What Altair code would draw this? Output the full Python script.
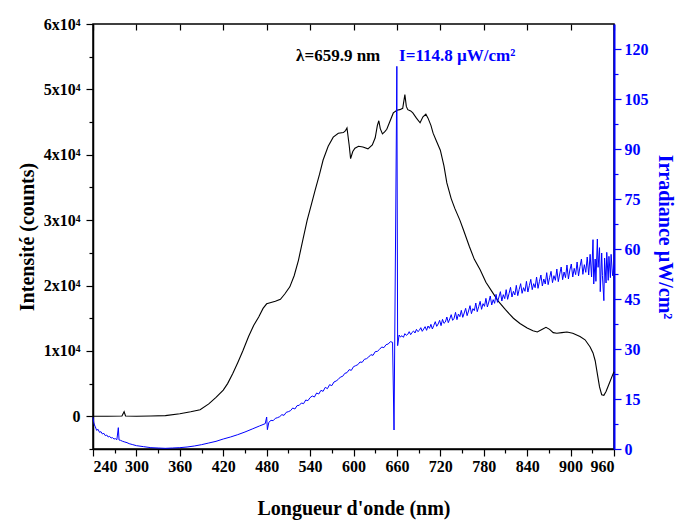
import altair as alt
import pandas as pd

# Intensity spectrum (black, left axis)
int_nm = [240, 260, 280, 283, 285, 300, 320, 340, 360, 375, 388, 400, 410, 420, 426, 433, 440, 447, 455, 462,
          469, 475, 480, 486, 492, 499, 505, 512, 518, 524, 530, 536, 542, 547, 553, 558, 565, 572, 579, 586,
          589, 591, 594, 596, 599, 602, 607, 613, 620, 626, 630, 633, 635, 637, 640, 643, 646, 650, 655, 660,
          664, 668, 671, 673, 675, 679, 682, 687, 692, 696, 700, 703, 707, 710, 715, 720, 725, 729, 735, 740,
          747, 752, 760, 767, 775, 783, 793, 800, 810, 821, 830, 840, 848, 854, 861, 866, 871, 876, 881, 888,
          895, 903, 913, 920, 927, 931, 934, 937, 940, 943, 946, 949, 953, 958, 960]
int_counts = [0, 0, 50, 700, 50, 0, 50, 100, 400, 700, 1000, 1900, 2900, 4000, 5000, 6500, 8200, 10000, 12200, 13900,
              15200, 16500, 17200, 17400, 17600, 17900, 18700, 19800, 21500, 23900, 27000, 30000, 32500, 34600, 37000, 39200, 41300, 42700, 43300, 43400,
              43700, 44100, 41500, 39400, 40500, 41000, 41300, 41200, 40900, 41500, 42600, 44500, 45200, 44000, 43200, 43500, 43900, 45000, 46400, 46800,
              46900, 47100, 49200, 47400, 46900, 46700, 46400, 45600, 44900, 45800, 46200, 45600, 44500, 43300, 42000, 40700, 38300, 35700, 33300, 31800,
              30000, 28500, 26000, 24000, 22400, 20500, 18800, 17600, 16300, 15000, 14200, 13500, 13100, 12900, 13300, 13600, 13300, 12800, 12700, 12800,
              12900, 12700, 12200, 11700, 10600, 9700, 8500, 6500, 4500, 3300, 3200, 3800, 4900, 6300, 6800]

# Irradiance spectrum (blue, right axis)
irr_nm = [240, 241, 242, 243, 245, 247, 249, 251, 253, 255, 257, 259, 261, 263, 265, 267, 269, 271, 273, 275,
          276, 278, 281, 284, 287, 290, 295, 300, 310, 320, 330, 340, 350, 360, 370, 380, 390, 400, 410, 420,
          430, 440, 450, 460, 470, 478, 480, 481,
          483, 486, 489, 492, 495, 498, 501, 504, 507, 510, 513, 516, 519, 522, 525, 528, 531, 534, 537, 540,
          543, 546, 549, 552, 555, 558, 561, 564, 567, 570, 573, 576, 579, 582, 585, 588, 591, 594, 597, 600,
          603, 606, 609, 612, 615, 618, 621, 624, 627, 630, 633, 636, 639, 642, 645, 648, 651, 654, 656, 658,
          659.9,
          661, 663, 665, 667, 669, 671, 673, 675, 677, 679, 681, 683, 685, 687, 689, 691, 693, 695, 697, 699,
          701, 703, 705, 707, 709, 711, 713, 715, 717, 719, 721, 723, 725, 727, 729, 731, 733, 735, 737, 739,
          741, 743, 745, 747, 749, 751, 753, 755, 757, 759, 761, 763, 765, 767, 769, 771, 773, 775, 777, 779,
          781, 783, 785, 787, 789, 791, 793, 795, 797, 799, 801, 803, 805, 807, 809, 811, 813, 815, 817, 819,
          821, 823, 825, 827, 829, 831, 833, 835, 837, 839, 841, 843, 845, 847, 849, 851, 853, 855, 857, 859,
          861, 863, 865, 867, 869, 871, 873, 875, 877, 879, 881, 883, 885, 887, 889, 891, 893, 895, 897, 899,
          901, 903, 905, 907, 909, 911, 913, 915, 917, 919, 921, 923, 925, 927, 929, 931, 932, 934, 935, 937,
          938, 940, 941, 943, 944, 946, 947, 949, 950, 952, 953, 955, 956, 958, 960]
irr_val = [9.5, 8.0, 7.2, 6.8, 5.6, 5.9, 5.0, 5.2, 4.5, 4.7, 4.0, 4.2, 3.6, 3.8, 3.3, 3.4, 3.0, 3.1, 2.8, 6.4,
           2.7, 2.6, 2.3, 2.1, 1.9, 1.6, 1.3, 1.0, 0.7, 0.4, 0.3, 0.2, 0.3, 0.4, 0.6, 0.9, 1.3, 1.8, 2.3, 3.0,
           3.6, 4.3, 5.1, 6.0, 6.9, 7.6, 9.6, 5.8,
           8.0, 8.6, 8.5, 9.2, 9.4, 9.7, 10.3, 10.1, 11.0, 11.2, 11.5, 12.3, 12.0, 13.0, 13.1, 13.8, 13.6, 14.7, 14.5, 15.4,
           15.9, 15.6, 16.8, 16.5, 17.6, 17.3, 18.5, 18.1, 19.3, 19.0, 20.1, 20.4, 20.9, 21.6, 21.8, 22.7, 22.9, 23.8, 23.6, 24.7,
           25.0, 25.3, 26.1, 26.0, 26.9, 27.1, 27.6, 28.3, 28.1, 29.2, 29.3, 29.9, 30.6, 30.4, 31.3, 31.5, 32.2, 32.0, 5.7, 60.0,
           114.8,
           31.0, 34.2, 33.6, 34.0, 33.5, 34.6, 34.1, 34.4, 35.2, 34.3, 35.0, 35.4, 34.8, 35.9, 35.2, 35.6, 36.4, 35.3, 36.0, 36.7,
           35.6, 36.9, 36.2, 37.4, 36.0, 37.1, 38.2, 36.8, 37.5, 38.6, 37.0, 38.9, 37.7, 38.1, 39.6, 37.9, 39.0, 40.3, 38.6, 39.2,
           41.0, 38.8, 40.5, 39.7, 41.6, 39.5, 40.8, 42.2, 40.0, 41.4, 43.0, 40.6, 42.1, 41.5, 43.8, 41.2, 42.7, 44.3, 41.9, 43.6,
           42.8, 45.2, 42.6, 44.1, 45.9, 43.2, 44.8, 43.7, 46.4, 44.0, 45.6, 47.2, 44.4, 46.3, 45.1, 47.8, 44.9, 46.7, 48.5, 45.6,
           47.3, 46.2, 49.1, 46.0, 47.9, 49.6, 46.7, 48.4, 47.3, 50.3, 47.1, 49.0, 50.9, 47.8, 49.6, 48.4, 51.6, 48.2, 50.3, 52.2,
           48.9, 51.0, 49.5, 52.9, 49.3, 51.4, 53.3, 49.9, 52.0, 50.6, 54.0, 50.2, 52.5, 54.6, 50.8, 53.1, 51.4, 55.2, 51.0, 53.7,
           55.5, 51.6, 54.2, 52.3, 56.1, 51.9, 54.7, 57.0, 52.4, 55.3, 53.0, 57.6, 52.2, 58.4, 51.6, 62.8, 49.5, 57.0, 50.3, 63.0,
           54.5, 60.4, 47.2, 58.8, 52.0, 44.5, 57.3, 49.8, 59.0, 50.6, 57.8, 51.4, 58.4, 52.0, 55.2]

x_ticks = list(range(240, 961, 30))
left_ticks = list(range(-5000, 60001, 5000))
right_ticks = [i * 7.5 for i in range(0, 17)]

ann_lambda = "λ=659.9 nm"
ann_irr = "I=114.8 µW/cm²"

FONT = "Liberation Serif"
BLUE = "#0000ff"
LBL = dict(labelFont=FONT, labelFontWeight="bold", labelFontSize=16,
           titleFont=FONT, titleFontWeight="bold", titleFontSize=20)

df_i = pd.DataFrame({"nm": int_nm, "counts": int_counts})
df_b = pd.DataFrame({"nm": irr_nm, "irr": irr_val})

xscale = alt.Scale(domain=[240, 960], nice=False, zero=False)
lscale = alt.Scale(domain=[-5000, 60000], nice=False, zero=False)
rscale = alt.Scale(domain=[0, 127.5], nice=False, zero=False)

black = alt.Chart(df_i).mark_line(color="black", strokeWidth=1.1).encode(
    x=alt.X("nm:Q", scale=xscale, axis=alt.Axis(
        orient="bottom", values=x_ticks, title="Longueur d'onde (nm)",
        labelExpr="datum.value % 60 === 0 ? datum.value : ''",
        tickSize={"condition": {"test": "datum.value % 60 === 0", "value": 7}, "value": 4},
        labelPadding=2, titlePadding=24, grid=False,
        domainColor="black", tickColor="black", labelColor="black", titleColor="black",
        domainWidth=1.5, tickWidth=1.2, **LBL)),
    y=alt.Y("counts:Q", scale=lscale, axis=alt.Axis(
        orient="left", values=left_ticks, title="Intensité (counts)",
        labelExpr="datum.value % 10000 === 0 ? (datum.value === 0 ? '0' : (datum.value / 10000) + 'x10⁴') : ''",
        tickSize={"condition": {"test": "datum.value % 10000 === 0", "value": 7}, "value": 4},
        labelPadding=6, titlePadding=6, grid=False,
        domainColor="black", tickColor="black", labelColor="black", titleColor="black",
        domainWidth=1.5, tickWidth=1.2, **LBL)),
)

blue = alt.Chart(df_b).mark_line(color=BLUE, strokeWidth=1).encode(
    x=alt.X("nm:Q", scale=xscale, axis=alt.Axis(
        orient="top", values=list(range(240, 961, 60)), labels=False, domain=False,
        tickSize=6, offset=-6, title=None, grid=False, tickColor="black", tickWidth=1.2)),
    y=alt.Y("irr:Q", scale=rscale, axis=alt.Axis(
        orient="right", values=right_ticks, title="Irradiance µW/cm²",
        labelExpr="datum.value % 15 === 0 ? datum.value : ''",
        tickSize={"condition": {"test": "datum.value % 15 === 0", "value": 7}, "value": 4},
        labelPadding=3, titlePadding=6, grid=False,
        domainColor=BLUE, tickColor=BLUE, labelColor=BLUE, titleColor=BLUE,
        domainWidth=2, tickWidth=1.2, **LBL)),
)

t1 = alt.Chart(pd.DataFrame({"nm": [637], "counts": [55100], "t": [ann_lambda]})).mark_text(
    align="right", baseline="middle", font=FONT, fontWeight="bold", fontSize=17, color="black"
).encode(
    x=alt.X("nm:Q", scale=xscale, axis=None),
    y=alt.Y("counts:Q", scale=lscale, axis=None),
    text="t:N",
)

t2 = alt.Chart(pd.DataFrame({"nm": [663], "irr": [117.9], "t": [ann_irr]})).mark_text(
    align="left", baseline="middle", font=FONT, fontWeight="bold", fontSize=17, color=BLUE
).encode(
    x=alt.X("nm:Q", scale=xscale, axis=None),
    y=alt.Y("irr:Q", scale=rscale, axis=None),
    text="t:N",
)

chart = alt.layer(black, blue, t1, t2).resolve_scale(
    x="independent", y="independent"
).properties(
    width=521, height=425,
    autosize=alt.AutoSizeParams(type="none"),
    padding={"left": 93, "top": 24, "right": 62, "bottom": 71},
    background="white",
).configure_view(
    stroke="black", strokeWidth=1.5
)

chart.save("out.html", embed_options={"renderer": "svg", "actions": False})
